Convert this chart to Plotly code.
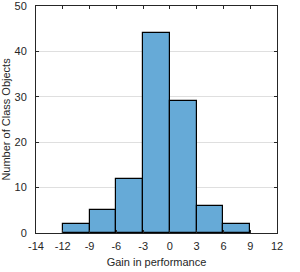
import plotly.graph_objects as go

bin_edges = [-12, -9, -6, -3, 0, 3, 6, 9]
counts = [2, 5, 12, 44, 29, 6, 2]
x_tick_vals = [-15, -12, -9, -6, -3, 0, 3, 6, 9, 12]
x_tick_text = ["-14", "-12", "-9", "-6", "-3", "0", "3", "6", "9", "12"]
y_tick_vals = [0, 10, 20, 30, 40, 50]

centers = [(bin_edges[i] + bin_edges[i + 1]) / 2 for i in range(len(counts))]
widths = [bin_edges[i + 1] - bin_edges[i] for i in range(len(counts))]

axis_col = "rgb(38,38,38)"
font = dict(family="Liberation Sans, Arial, sans-serif", size=11, color=axis_col)

fig = go.Figure(go.Bar(
    x=centers, y=counts, width=widths,
    marker=dict(color="rgb(102,170,215)", line=dict(color="black", width=1.2)),
    hoverinfo="skip",
))

fig.update_layout(
    width=300, height=272,
    margin=dict(l=36, r=23, t=6, b=39),
    paper_bgcolor="white", plot_bgcolor="white",
    font=font, showlegend=False, bargap=0,
)
fig.update_xaxes(
    range=[-15, 12], tickvals=x_tick_vals, ticktext=x_tick_text,
    showgrid=False, zeroline=False, automargin=False, ticklabeloverflow="allow",
    showline=True, linecolor=axis_col, linewidth=1, mirror="allticks",
    ticks="inside", ticklen=3, tickcolor=axis_col, ticklabelstandoff=3,
    title=dict(text="Gain in performance", font=font, standoff=7),
)
fig.update_yaxes(
    range=[0, 50], tickvals=y_tick_vals,
    showgrid=True, gridcolor="rgb(223,223,223)", gridwidth=1, zeroline=False,
    automargin=False, ticklabeloverflow="allow",
    showline=True, linecolor=axis_col, linewidth=1, mirror="allticks",
    ticks="inside", ticklen=3, tickcolor=axis_col, ticklabelstandoff=6,
    title=dict(text="Number of Class Objects", font=font, standoff=4),
)

fig.write_html("out.html", config={"displayModeBar": False},
               post_script="document.body.style.margin='0';")
